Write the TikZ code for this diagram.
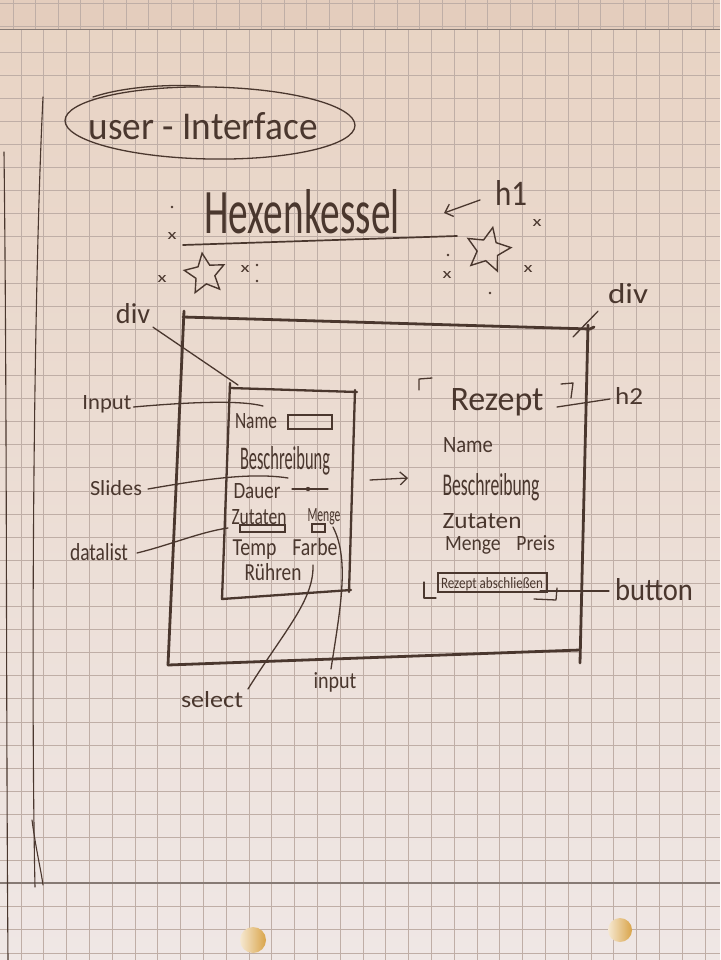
\documentclass[tikz,border=0pt]{standalone}
\usepackage{graphicx}
\usepackage{fontspec}
\setmainfont{Carlito}
\usetikzlibrary{shapes.geometric,arrows.meta,calc}

\definecolor{paperA}{HTML}{E8D3C3}
\definecolor{paperB}{HTML}{EFE7E5}
\definecolor{paperTop}{HTML}{E4CDBD}
\definecolor{gridc}{HTML}{BFAEA6}
\definecolor{ink}{HTML}{4A372E}
\definecolor{holec}{HTML}{D9A449}

% set a text into a box of given width and height above the baseline (pt)
\newcommand{\fitwh}[3]{\resizebox{#1pt}{#2pt}{#3}}

\tikzset{
  hand/.style={inner sep=0pt, outer sep=0pt, text=ink, anchor=base},
  pen/.style={draw=ink, line width=1.3pt, line cap=round, line join=round},
  thinpen/.style={draw=ink, line width=1.1pt, line cap=round, line join=round},
  boldpen/.style={draw=ink, line width=2.8pt, line cap=round, line join=round},
  framepen/.style={draw=ink, line width=2.3pt, line cap=round, line join=round},
  headtip/.style={-{Straight Barb[length=7pt,width=13pt,line width=1.3pt]}},
  fieldbox/.style={draw=ink, line width=1.2pt, inner sep=0pt},
  starpen/.style={star, star points=5, star point ratio=2.1, draw=ink,
    line width=1.4pt, inner sep=0pt},
}

\begin{document}
\begin{tikzpicture}[x=1pt,y=-1pt]
\useasboundingbox (0,0) rectangle (720,960);

% ---------- squared paper ----------
\shade[top color=paperA, bottom color=paperB] (0,0) rectangle (720,960);
\fill[paperTop] (0,0) rectangle (720,30);
\foreach \i in {0,...,31}
  \draw[gridc, line width=0.7pt] ({13+22.6*\i},0) -- ({13+22.6*\i},30);
\foreach \j in {3,26}
  \draw[gridc, line width=0.7pt] (0,\j) -- (720,\j);
\draw[gridc!70!black, line width=1pt] (0,30) -- (720,30);
\foreach \i in {0,...,31}
  \draw[gridc, line width=0.7pt] ({21+22.8*\i},30) -- ({21+22.8*\i},960);
\foreach \j in {0,...,39}
  \draw[gridc, line width=0.7pt] (0,{52+23.1*\j}) -- (720,{52+23.1*\j});
\draw[gridc!70!black, line width=1.2pt] (0,883) -- (720,883);

% margin lines
\draw[thinpen] (4,152) .. controls (7,400) and (6,700) .. (8,960);
\draw[thinpen] (43,97) .. controls (33,300) and (31,700) .. (35,887);
\draw[thinpen] (32,820) .. controls (36,850) and (41,870) .. (43,885);

% punch holes
\shade[left color=white!75!holec, right color=holec] (253,940) circle (13);
\shade[left color=white!75!holec, right color=holec] (620,930) circle (12);

% ---------- heading ----------
\node[hand] (ui) at (203,140) {\fitwh{229}{27}{user - Interface}};
\node[ellipse, pen, minimum width=290pt, minimum height=72pt, rotate=-1]
  (uiframe) at (210,123) {};
\draw[pen] (93,97) .. controls (120,88) and (160,84) .. (200,86);

% ---------- title ----------
\node[hand] (title) at (302,233) {\fitwh{195}{44}{Hexenkessel}};
\coordinate (ulA) at (183,245);
\coordinate (ulB) at (457,236);
\draw[pen, line width=1.7pt] (ulA) -- (ulB);

\node[hand] (h1) at (511,205) {\fitwh{32}{25}{h1}};
\coordinate (h1tail) at (480,200);
\coordinate (h1tip) at (444,213);
\draw[pen, headtip] (h1tail) -- (h1tip);

% stars and sparkles
\node[starpen, minimum size=42pt, rotate=8] (starL) at (205,274) {};
\node[starpen, minimum size=46pt, rotate=-12] (starR) at (488,250) {};
\foreach \p/\n in {{(172,239)}/xa, {(162,282)}/xb, {(245,272)}/xc,
                   {(447,278)}/xd, {(537,226)}/xe, {(528,272)}/xf}
  \node[hand] (\n) at \p {\fitwh{9}{7}{x}};
\foreach \p in {(172,207), (257,265), (257,281), (448,255), (490,293)}
  \fill[ink] \p circle (1.4);

% ---------- outer div ----------
\coordinate (oTL) at (183,317);
\coordinate (oTR) at (590,329);
\coordinate (oBR) at (580,650);
\coordinate (oBL) at (168,665);
\draw[boldpen] (oTL) -- (oTR) -- ++(4,-2);
\draw[boldpen] (588,325) -- (580,663);
\draw[boldpen] (oBL) -- (oBR);
\draw[boldpen] (184,311) -- (oBL);

\node[hand] (divL) at (133,323) {\fitwh{34}{20}{div}};
\node[hand] (divR) at (628,303) {\fitwh{40}{20}{div}};

% ---------- inner form div ----------
\coordinate (iTL) at (230,388);
\coordinate (iTR) at (357,392);
\coordinate (iBR) at (351,590);
\coordinate (iBL) at (222,599);
\draw[framepen] (230,383) -- (iBL) -- (iBR);
\draw[framepen] (iTL) -- (iTR);
\draw[framepen] (355,390) -- (349,592);

\node[hand] (fName) at (256,428) {\fitwh{42}{15}{Name}};
\node[fieldbox, minimum width=44pt, minimum height=14pt] (nameField) at (310,422) {};
\node[hand] (fBeschr) at (285,469) {\fitwh{90}{23}{Beschreibung}};
\node[hand] (fDauer) at (257,498) {\fitwh{47}{15}{Dauer}};
\coordinate (sliderA) at (292,489);
\coordinate (sliderB) at (328,489);
\draw[pen] (sliderA) -- (sliderB);
\fill[ink] (308,489) circle (2.2);
\node[hand] (fZutaten) at (259,524) {\fitwh{55}{15}{Zutaten}};
\node[fieldbox, minimum width=45pt, minimum height=7pt] (zutatenField) at (262.5,528.5) {};
\node[hand] (fMenge) at (324,521) {\fitwh{33}{13}{Menge}};
\node[fieldbox, minimum width=13pt, minimum height=8pt] (mengeField) at (318.5,528) {};
\node[hand] (fTemp) at (285,555) {\fitwh{105}{17}{Temp\hspace{0.8em}Farbe}};
\node[hand] (fRuehren) at (273,580) {\fitwh{57}{17}{Rühren}};

% labels of the form elements
\node[hand] (lInput) at (107,409) {\fitwh{49}{14}{Input}};
\node[hand] (lSlides) at (116,495) {\fitwh{52}{15}{Slides}};
\node[hand] (lDatalist) at (99,560) {\fitwh{58}{17}{datalist}};
\node[hand] (lSelect) at (212,707) {\fitwh{62}{16}{select}};
\node[hand] (lInputB) at (335,688) {\fitwh{43}{16}{input}};

\coordinate (tInput) at (263,406);
\coordinate (tSlides) at (288,478);
\coordinate (tDatalist) at (228,528);
\coordinate (tSelect) at (313,565);
\coordinate (tInputB) at (333,527);
\coordinate (tDivL) at (238,385);
\coordinate (tDivR) at (573,337);

\draw[pen] ($(lInput.base east)+(2,-2)$) .. controls (190,402) and (240,400) .. (tInput);
\draw[pen] ($(lSlides.base east)+(6,-6)$) .. controls (200,480) and (250,472) .. (tSlides);
\draw[pen] ($(lDatalist.base east)+(9,-7)$) .. controls (170,545) and (200,532) .. (tDatalist);
\draw[pen] ($(lSelect.north east)+(5,-2)$) .. controls (285,630) and (314,600) .. (tSelect);
\draw[pen] ($(lInputB.north)+(-4,-3)$) .. controls (340,610) and (350,560) .. (tInputB);
\draw[pen] ($(divL.south east)+(3,4)$) -- (tDivL);
\draw[pen] ($(divR.south west)+(-10,8)$) -- (tDivR);

% ---------- arrow to the recipe ----------
\coordinate (arrA) at (370,480);
\coordinate (arrB) at (408,478);
\draw[pen, headtip] (arrA) -- (arrB);

% ---------- recipe output ----------
\node[hand] (rTitle) at (497,410) {\fitwh{93}{22}{Rezept}};
\draw[pen] (419,390) -- (419,379) -- (432,378);
\draw[pen] (561,384) -- (573,383) -- (571,398);
\node[hand] (h2) at (629,404) {\fitwh{28}{17}{h2}};
\coordinate (tH2) at (557,407);
\draw[pen] ($(h2.base west)+(-5,-5)$) -- (tH2);

\node[hand] (rName) at (468,452) {\fitwh{50}{15}{Name}};
\node[hand] (rBeschr) at (491,495) {\fitwh{97}{22}{Beschreibung}};
\node[hand] (rZutaten) at (482,528) {\fitwh{79}{15}{Zutaten}};
\node[hand] (rMenge) at (500,550) {\fitwh{110}{15}{Menge\hspace{0.8em}Preis}};

\node[fieldbox, minimum width=109pt, minimum height=19pt] (btn) at (492.5,582.5) {};
\node[hand] (btnText) at (492,588) {\fitwh{102}{11}{Rezept abschließen}};
\draw[pen] (424,582) -- (424,598) -- (436,598);
\draw[pen] (534,599) -- (556,600) -- (557,588);
\node[hand] (lButton) at (654,600) {\fitwh{78}{22}{button}};
\coordinate (tBtn) at (540,591);
\draw[pen] ($(lButton.base west)+(-6,-9)$) -- (tBtn);

\end{tikzpicture}
\end{document}
